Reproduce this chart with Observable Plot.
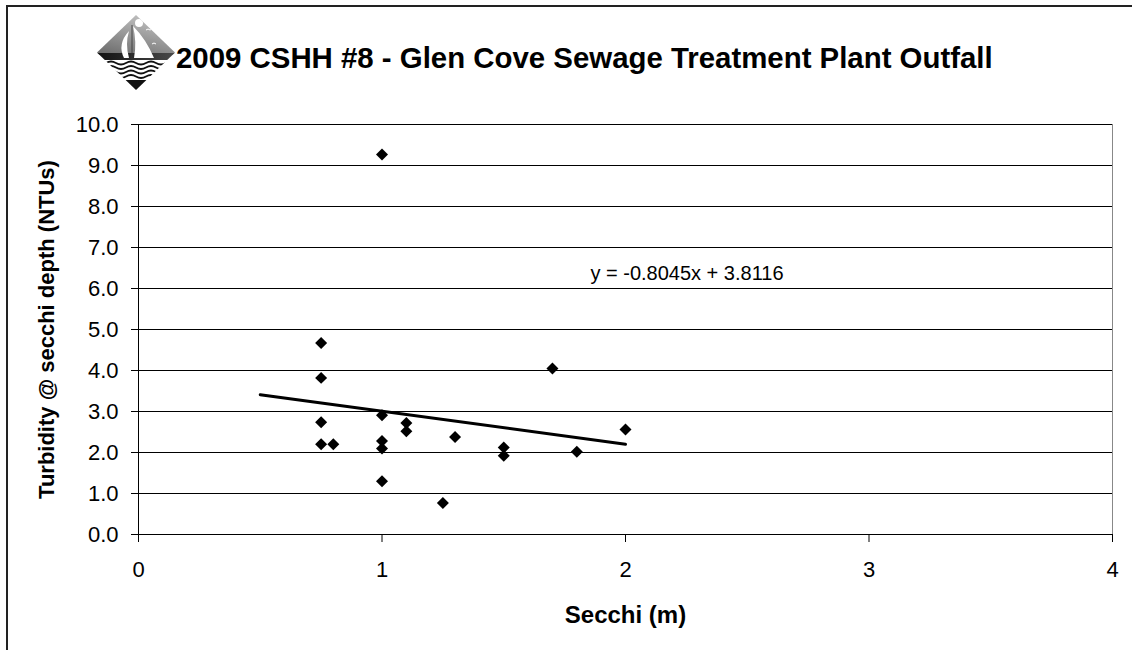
<!DOCTYPE html>
<html>
<head>
<meta charset="utf-8">
<script src="https://cdn.jsdelivr.net/npm/d3@7"></script>
<script src="https://cdn.jsdelivr.net/npm/@observablehq/plot@0.6"></script>
<style>
  html, body { margin: 0; padding: 0; background: #fff; }
  #wrap { position: relative; width: 1132px; height: 650px; overflow: hidden; background: #fff;
          font-family: Arial, "Liberation Sans", sans-serif; }
  #frame { position: absolute; left: 6px; top: 5px; width: 1200px; height: 700px;
           border: 2px solid #222; pointer-events: none; box-sizing: border-box; }
  #header { position: relative; height: 100px; }
  #logo { position: absolute; left: 96px; top: 15px; }
  #title { position: absolute; left: 176px; top: 43px; font-size: 29.4px; line-height: 29px;
           font-weight: bold; color: #000; white-space: nowrap; }
  #chart svg { display: block; }
</style>
</head>
<body>
<div id="wrap">
  <div id="header">
    <svg id="logo" width="80" height="76" viewBox="0 0 80 76">
      <defs>
        <clipPath id="dia"><polygon points="40,0 79,37.5 40,75 1,37.5"/></clipPath>
        <linearGradient id="sky" x1="0.7" y1="0" x2="0.2" y2="1">
          <stop offset="0" stop-color="#c4c4c4"/>
          <stop offset="1" stop-color="#6e6e6e"/>
        </linearGradient>
        <linearGradient id="band" x1="0" y1="0" x2="1" y2="0">
          <stop offset="0" stop-color="#111"/>
          <stop offset="1" stop-color="#4a4a4a"/>
        </linearGradient>
      </defs>
      <g clip-path="url(#dia)">
        <rect x="0" y="0" width="80" height="40" fill="url(#sky)"/>
        <circle cx="43" cy="8" r="4" fill="#fff"/>
        <path d="M50,15 q2,-2 4,0 q2,-2 4,0" fill="none" stroke="#fff" stroke-width="1"/>
        <path d="M56,29 q2,-2 4,0" fill="none" stroke="#fff" stroke-width="1"/>
        <rect x="0" y="38" width="80" height="7" fill="url(#band)"/>
        <path d="M37,11 Q50,24 58,43 L38,43 Q41,27 37,11 Z" fill="#fff"/>
        <path d="M33,16 Q21,29 28,43 L33,43 Q29,29 33,16 Z" fill="#fff"/>
        <line x1="36" y1="10" x2="36" y2="44" stroke="#333" stroke-width="0.8"/>
        <rect x="0" y="45" width="80" height="31" fill="#fff"/>
        <g fill="none" stroke="#111" stroke-width="1.8">
          <path d="M10,48 q5,-3 10,0 t10,0 t10,0 t10,0 t10,0 t10,0 t10,0"/>
          <path d="M10,52.5 q5,-3 10,0 t10,0 t10,0 t10,0 t10,0 t10,0 t10,0"/>
          <path d="M10,57 q5,-3 10,0 t10,0 t10,0 t10,0 t10,0 t10,0 t10,0"/>
          <path d="M10,61.5 q5,-3 10,0 t10,0 t10,0 t10,0 t10,0 t10,0 t10,0"/>
        </g>
        <polygon points="28,65 52,65 40,76" fill="#111"/>
      </g>
    </svg>
    <div id="title">2009 CSHH #8 - Glen Cove Sewage Treatment Plant Outfall</div>
  </div>
  <div id="chart"></div>
  <div id="frame"></div>
</div>
<script>
// ---- data ----
const secchi    = [0.75, 0.75, 0.75, 0.75, 0.8, 1.0, 1.0, 1.0, 1.0, 1.0, 1.1, 1.1, 1.25, 1.3, 1.5, 1.5, 1.7, 1.8, 2.0];
const turbidity = [4.67, 3.82, 2.74, 2.20, 2.20, 9.27, 2.91, 2.28, 2.10, 1.30, 2.72, 2.52, 0.77, 2.38, 2.12, 1.92, 4.05, 2.02, 2.56];
const trendSlope = -0.8045;
const trendIntercept = 3.8116;
const trendRange = [0.5, 2.0];
const equationLabel = "y = -0.8045x + 3.8116";
const equationAt = {x: 1.856, y: 6.56};
const xTicks = [0, 1, 2, 3, 4];
const yTicks = [0, 1, 2, 3, 4, 5, 6, 7, 8, 9, 10];
const xTitle = "Secchi (m)";
const yTitle = "Turbidity @ secchi depth (NTUs)";

const points = secchi.map((s, i) => ({secchi: s, turbidity: turbidity[i]}));
const trend = trendRange.map(x => ({x, y: trendSlope * x + trendIntercept}));

const chart = Plot.plot({
  width: 1132,
  height: 550,
  marginLeft: 138,
  marginRight: 20,
  marginTop: 24,
  marginBottom: 116,
  x: {domain: [0, 4]},
  y: {domain: [0, 10]},
  style: {fontFamily: "Arial, 'Liberation Sans', sans-serif", background: "transparent", color: "#000", overflow: "visible"},
  marks: [
    Plot.gridY(yTicks, {stroke: "#000", strokeOpacity: 1}),
    Plot.ruleX([4], {stroke: "#888"}),
    Plot.ruleX([0], {stroke: "#000"}),
    Plot.ruleY([0], {stroke: "#000"}),
    Plot.axisY(yTicks, {tickFormat: d3.format(".1f"), tickSize: 7, tickPadding: 13, fontSize: 22, label: null}),
    Plot.axisX(xTicks, {tickFormat: d3.format("d"), tickSize: 8, tickPadding: 19, fontSize: 22, label: null}),
    Plot.text([yTitle], {frameAnchor: "left", rotate: -90, dx: -92, lineAnchor: "middle", textAnchor: "middle", fontSize: 22, fontWeight: "bold"}),
    Plot.text([xTitle], {frameAnchor: "bottom", lineAnchor: "top", dy: 71, fontSize: 24, fontWeight: "bold"}),
    Plot.line(trend, {x: "x", y: "y", stroke: "#000", strokeWidth: 3}),
    Plot.dot(points, {x: "secchi", y: "turbidity", symbol: "diamond2", r: 5.4, fill: "#000", stroke: "none"}),
    Plot.text([equationLabel], {x: () => equationAt.x, y: () => equationAt.y, textAnchor: "start", lineAnchor: "top", fontSize: 20})
  ]
});
document.getElementById("chart").appendChild(chart);
</script>
</body>
</html>
